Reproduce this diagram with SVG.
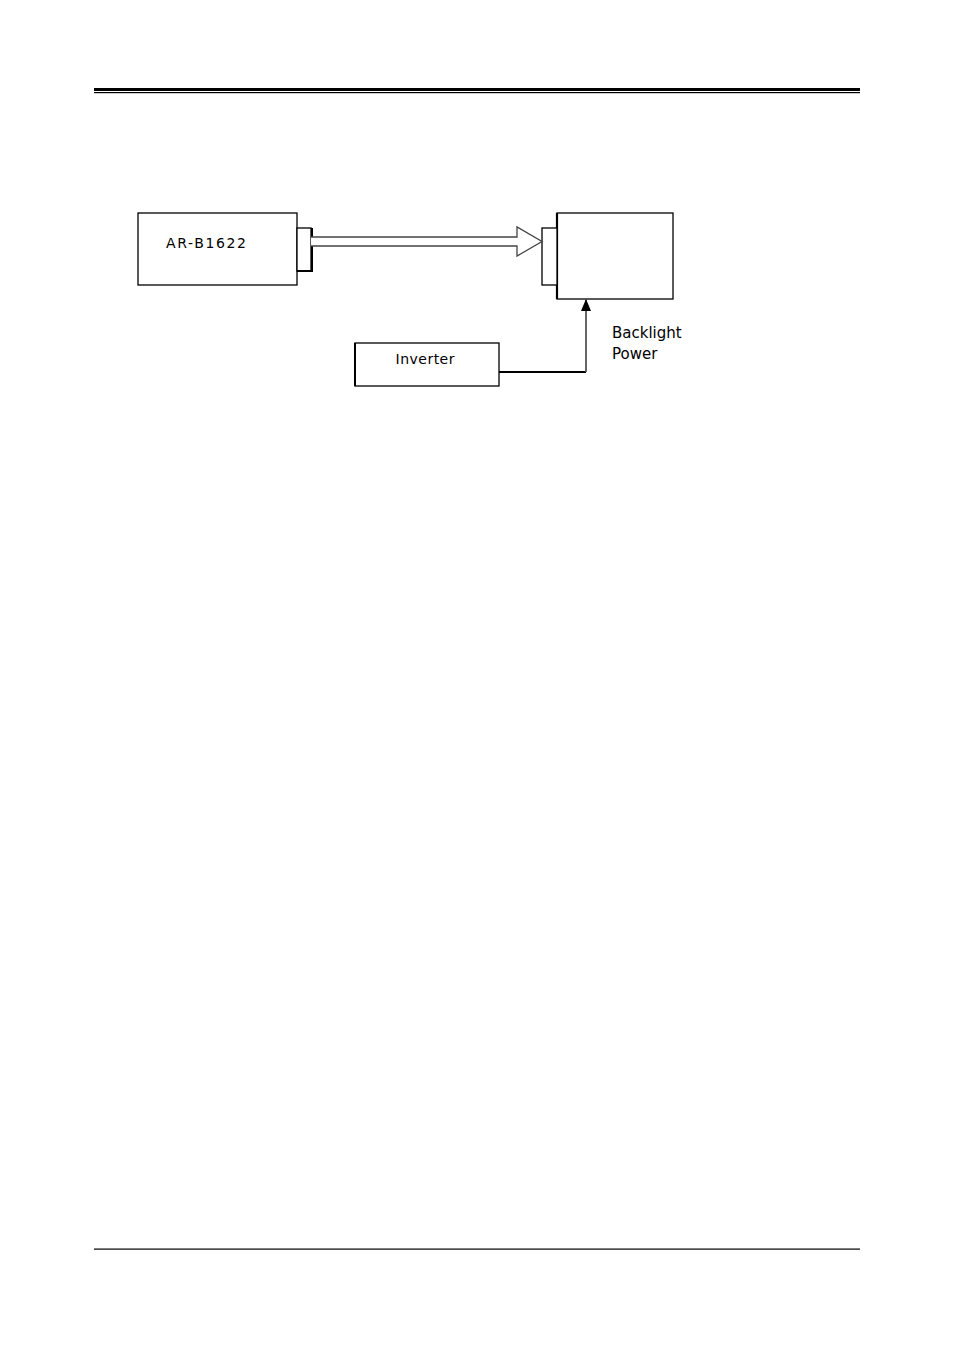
<svg xmlns="http://www.w3.org/2000/svg" width="954" height="1350" viewBox="0 0 954 1350">
<style>
.box{fill:#fff;stroke:#000;stroke-width:1.3}
.lbl{font-family:"DejaVu Sans","Liberation Sans",sans-serif;font-size:14px;fill:#000}
.lbl2{font-family:"DejaVu Sans","Liberation Sans",sans-serif;font-size:15px;fill:#000}
</style>
<defs>
<marker id="tri" markerWidth="12" markerHeight="10" refX="11" refY="5" orient="auto" markerUnits="userSpaceOnUse" viewBox="0 0 12 10">
<path d="M0,0 L12,5 L0,10 Z" fill="#000"/>
</marker>
</defs>
<g id="header">
<rect x="94" y="88" width="766" height="3" fill="#000"/>
<rect x="94" y="92" width="766" height="1.2" fill="#000"/>
</g>
<g id="footer">
<rect x="94" y="1248.5" width="766" height="1.2" fill="#000"/>
</g>
<g id="node-arb1622">
<rect class="box" x="138" y="213" width="159" height="72"/>
<text class="lbl" x="206" y="248" text-anchor="middle" textLength="80" lengthAdjust="spacing">AR-B1622</text>
<rect class="box" x="297" y="228" width="14" height="43"/>
<path d="M297,271 H312 V228" fill="none" stroke="#000" stroke-width="2"/>
</g>
<g id="node-display">
<rect class="box" x="557" y="213" width="116" height="86"/>
<path d="M557,213 V299" stroke="#000" stroke-width="2.2"/>
<rect class="box" x="542" y="228" width="15" height="57"/>
</g>
<g id="node-inverter">
<rect class="box" x="355" y="343" width="144" height="43"/>
<path d="M355,343 V386" stroke="#000" stroke-width="2"/>
<text class="lbl" x="425" y="364" text-anchor="middle" textLength="59" lengthAdjust="spacing">Inverter</text>
</g>
<g id="connectors">
<path d="M311,237 H517 V227 L542,241.5 L517,256 V246 H311" fill="#fff" stroke="#444" stroke-width="1.3"/>
<path d="M499,372 H586" stroke="#000" stroke-width="2"/>
<path d="M586,372 V300" stroke="#555" stroke-width="1.8" marker-end="url(#tri)"/>
</g>
<g id="label-backlight">
<text class="lbl2" x="612" y="338">Backlight</text>
<text class="lbl2" x="612" y="359">Power</text>
</g>
</svg>
